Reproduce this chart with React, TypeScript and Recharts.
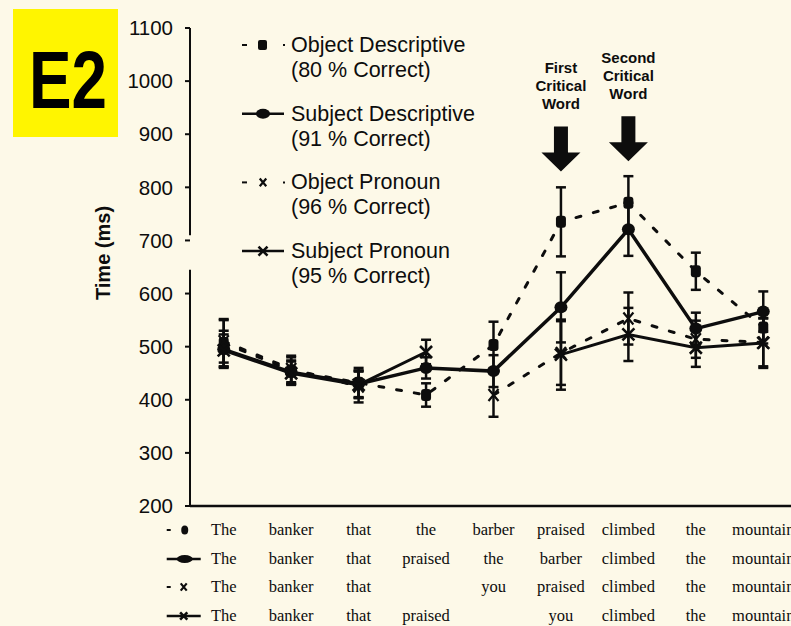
import React from 'react';
import { LineChart, Line, XAxis, YAxis, ErrorBar, ReferenceDot, ReferenceLine } from 'recharts';

// ---------- data ----------
const positions = [1, 2, 3, 4, 5, 6, 7, 8, 9];
const seriesNames = ['Object Descriptive', 'Subject Descriptive', 'Object Pronoun', 'Subject Pronoun'];
const seriesAccuracy = ['(80 % Correct)', '(91 % Correct)', '(96 % Correct)', '(95 % Correct)'];

const objDesc = [507, 455, 432, 409, 503, 735, 771, 642, 536];
const subjDesc = [495, 452, 430, 460, 454, 574, 721, 534, 566];
const objPron = [510, 458, 425, null, 409, 488, 553, 514, 508];
const subjPron = [493, 450, 428, 490, null, 485, 523, 498, 507];

const objDescErr = [45, 25, 28, 22, 44, 65, 50, 35, 30];
const subjDescErr = [35, 22, 25, 20, 30, 66, 50, 30, 38];
const objPronErr = [40, 25, 30, null, 41, 60, 49, 35, 45];
const subjPronErr = [30, 22, 25, 23, null, 66, 50, 36, 47];

const wordsObjDesc = ['The', 'banker', 'that', 'the', 'barber', 'praised', 'climbed', 'the', 'mountain'];
const wordsSubjDesc = ['The', 'banker', 'that', 'praised', 'the', 'barber', 'climbed', 'the', 'mountain'];
const wordsObjPron = ['The', 'banker', 'that', '', 'you', 'praised', 'climbed', 'the', 'mountain'];
const wordsSubjPron = ['The', 'banker', 'that', 'praised', '', 'you', 'climbed', 'the', 'mountain'];

const yTicks = [200, 300, 400, 500, 600, 700, 800, 900, 1000, 1100];

const criticalPositions = [6, 7];
const criticalTips = [830, 849];
const criticalLabels = [
  ['First', 'Critical', 'Word'],
  ['Second', 'Critical', 'Word'],
];

const panelLabel = 'E2';
const yAxisTitle = 'Time (ms)';

// ---------- derived table ----------
const data = positions.map((p, i) => ({
  pos: p,
  od: objDesc[i],
  sd: subjDesc[i],
  op: objPron[i],
  sp: subjPron[i],
  odErr: objDescErr[i],
  sdErr: subjDescErr[i],
  opErr: objPronErr[i],
  spErr: subjPronErr[i],
}));

const markerKinds = ['square', 'circle', 'xthin', 'xthick'];
const dashedSeries = [true, false, true, false];
const wordRows = [wordsObjDesc, wordsSubjDesc, wordsObjPron, wordsSubjPron];

const INK = '#0d0d0d';
const BG = '#fdf9e8';
const SANS = '"Liberation Sans", Arial, Helvetica, sans-serif';
const SERIF = '"Liberation Serif", "Times New Roman", serif';

function Marker({ kind, cx, cy, scale = 1 }: { kind: string; cx: number; cy: number; scale?: number }) {
  const s = scale;
  switch (kind) {
    case 'square':
      return <rect x={cx - 5 * s} y={cy - 6 * s} width={10 * s} height={12 * s} rx={3 * s} fill={INK} />;
    case 'circle':
      return <ellipse cx={cx} cy={cy} rx={6.5 * s} ry={6 * s} fill={INK} />;
    case 'xthin':
      return (
        <path
          d={`M${cx - 5 * s},${cy - 6 * s}L${cx + 5 * s},${cy + 6 * s}M${cx + 5 * s},${cy - 6 * s}L${cx - 5 * s},${cy + 6 * s}`}
          stroke={INK}
          strokeWidth={2.2}
          fill="none"
        />
      );
    default:
      return (
        <path
          d={`M${cx - 6 * s},${cy - 6 * s}L${cx + 6 * s},${cy + 6 * s}M${cx + 6 * s},${cy - 6 * s}L${cx - 6 * s},${cy + 6 * s}`}
          stroke={INK}
          strokeWidth={2.6}
          fill="none"
        />
      );
  }
}

const makeDot = (kind: string, prefix: string) => (p: any) => {
  if (p == null || p.cx == null || p.cy == null || p.value == null || Number.isNaN(p.cy)) {
    return <g key={`${prefix}-${p?.index}`} />;
  }
  return (
    <g key={`${prefix}-${p.index}`}>
      <Marker kind={kind} cx={p.cx} cy={p.cy} />
    </g>
  );
};

function WordTick(props: any) {
  const { x, y, payload, index } = props;
  const i = positions.indexOf(payload.value);
  const rowOffsets = [24, 53, 81, 110];
  return (
    <g>
      {wordRows.map((row, r) => (
        <text
          key={r}
          x={x}
          y={y + rowOffsets[r] + 5}
          textAnchor="middle"
          fontFamily={SERIF}
          fontSize={16.5}
          fill={INK}
        >
          {row[i]}
        </text>
      ))}
      {index === 0 &&
        markerKinds.map((k, r) => {
          const my = y + rowOffsets[r];
          const lx = x - 57;
          return (
            <g key={`m${r}`}>
              {dashedSeries[r] ? (
                <line x1={lx} y1={my} x2={lx + 4} y2={my} stroke={INK} strokeWidth={2} />
              ) : (
                <line x1={lx} y1={my} x2={lx + 34} y2={my} stroke={INK} strokeWidth={2.5} />
              )}
              {k === 'circle' ? (
                <ellipse cx={lx + 18} cy={my} rx={8} ry={4} fill={INK} />
              ) : k === 'square' ? (
                <ellipse cx={lx + 18} cy={my} rx={3.5} ry={4.5} fill={INK} />
              ) : (
                <Marker kind={k} cx={lx + 17} cy={my} scale={0.6} />
              )}
            </g>
          );
        })}
    </g>
  );
}

function CriticalArrow({ cx, cy, lines }: { cx: number; cy: number; lines: string[] }) {
  const textOffsets = [-98, -80, -62];
  return (
    <g>
      {lines.map((t, i) => (
        <text
          key={i}
          x={cx}
          y={cy + textOffsets[i]}
          textAnchor="middle"
          fontFamily={SANS}
          fontWeight="bold"
          fontSize={15}
          fill={INK}
        >
          {t}
        </text>
      ))}
      <path
        d={`M${cx - 7},${cy - 45}L${cx + 7},${cy - 45}L${cx + 7},${cy - 19}L${cx + 19.5},${cy - 19}L${cx},${cy}L${cx - 19.5},${cy - 19}L${cx - 7},${cy - 19}Z`}
        fill={INK}
      />
    </g>
  );
}

function YTitle() {
  return (
    <text
      x={103}
      y={253}
      transform="rotate(-90 103 253)"
      textAnchor="middle"
      dominantBaseline="central"
      fontFamily={SANS}
      fontWeight="bold"
      fontSize={20}
      fill={INK}
    >
      {yAxisTitle}
    </text>
  );
}

function Overlay() {
  return (
    <svg
      width={791}
      height={626}
      style={{ position: 'absolute', left: 0, top: 0, pointerEvents: 'none' }}
    >
      <rect x={13} y={9} width={105} height={128} fill="#fff500" />
      <text
        x={29}
        y={108}
        fontFamily={SANS}
        fontWeight="bold"
        fontSize={81}
        fill="#000"
        textLength={78}
        lengthAdjust="spacingAndGlyphs"
      >
        {panelLabel}
      </text>
      {seriesNames.map((name, i) => {
        const y = 45 + i * 68.7;
        const kind = markerKinds[i];
        return (
          <g key={name}>
            {dashedSeries[i] ? (
              <g>
                <line x1={242} y1={y} x2={247} y2={y} stroke={INK} strokeWidth={2} />
                <line x1={283} y1={y} x2={285} y2={y} stroke={INK} strokeWidth={2} />
              </g>
            ) : (
              <line x1={242} y1={y} x2={284} y2={y} stroke={INK} strokeWidth={2.5} />
            )}
            {kind === 'circle' ? (
              <ellipse cx={263} cy={y} rx={7} ry={5} fill={INK} />
            ) : kind === 'square' ? (
              <rect x={258} y={y - 5} width={9} height={10} rx={2} fill={INK} />
            ) : (
              <Marker kind={kind} cx={263} cy={y} scale={kind === 'xthin' ? 0.65 : 0.75} />
            )}
            <text x={291} y={y + 7} fontFamily={SANS} fontSize={21.5} fill={INK}>
              {name}
            </text>
            <text x={291} y={y + 32} fontFamily={SANS} fontSize={21.5} fill={INK}>
              {seriesAccuracy[i]}
            </text>
          </g>
        );
      })}
    </svg>
  );
}

export default function App() {
  return (
    <div
      style={{
        position: 'absolute',
        left: 0,
        top: 0,
        width: 791,
        height: 626,
        overflow: 'hidden',
        background: BG,
      }}
    >
      <LineChart
        width={800}
        height={626}
        data={data}
        margin={{ top: 28, right: 3, bottom: 0, left: 0 }}
        style={{ fontFamily: SANS }}
      >
        <XAxis
          dataKey="pos"
          type="number"
          domain={[0.5, 9.5]}
          ticks={positions}
          interval={0}
          height={120}
          tickSize={0}
          tickMargin={0}
          tickLine={false}
          axisLine={{ stroke: INK, strokeWidth: 2.5 }}
          tick={<WordTick />}
          allowDataOverflow
        />
        <YAxis
          type="number"
          domain={[200, 1100]}
          ticks={yTicks}
          interval={0}
          width={190}
          tickSize={5}
          tickMargin={12}
          axisLine={false}
          tickLine={{ stroke: INK, strokeWidth: 2 }}
          tick={{ fill: INK, fontSize: 20.5, fontFamily: SANS }}
          label={<YTitle />}
          allowDataOverflow
        />
        <ReferenceLine
          segment={[{ x: 0.5, y: 1100 }, { x: 0.5, y: 710 }]}
          stroke={INK}
          strokeWidth={2}
          ifOverflow="visible"
        />
        <ReferenceLine
          segment={[{ x: 0.5, y: 645 }, { x: 0.5, y: 200 }]}
          stroke={INK}
          strokeWidth={2}
          ifOverflow="visible"
        />
        <Line
          dataKey="od"
          stroke={INK}
          strokeWidth={3}
          strokeDasharray="5 13"
          strokeLinecap="round"
          dot={makeDot('square', 'od')}
          activeDot={false}
          connectNulls={false}
          isAnimationActive={false}
        >
          <ErrorBar dataKey="odErr" width={5} stroke={INK} strokeWidth={2.5} direction="y" isAnimationActive={false} />
        </Line>
        <Line
          dataKey="sd"
          stroke={INK}
          strokeWidth={3.5}
          dot={makeDot('circle', 'sd')}
          activeDot={false}
          connectNulls={false}
          isAnimationActive={false}
        >
          <ErrorBar dataKey="sdErr" width={5} stroke={INK} strokeWidth={2.5} direction="y" isAnimationActive={false} />
        </Line>
        <Line
          dataKey="op"
          stroke={INK}
          strokeWidth={3}
          strokeDasharray="5 13"
          strokeLinecap="round"
          dot={makeDot('xthin', 'op')}
          activeDot={false}
          connectNulls={false}
          isAnimationActive={false}
        >
          <ErrorBar dataKey="opErr" width={5} stroke={INK} strokeWidth={2.5} direction="y" isAnimationActive={false} />
        </Line>
        <Line
          dataKey="sp"
          stroke={INK}
          strokeWidth={3}
          dot={makeDot('xthick', 'sp')}
          activeDot={false}
          connectNulls={false}
          isAnimationActive={false}
        >
          <ErrorBar dataKey="spErr" width={5} stroke={INK} strokeWidth={2.5} direction="y" isAnimationActive={false} />
        </Line>
        {criticalPositions.map((p, i) => (
          <ReferenceDot
            key={`crit-${p}`}
            x={p}
            y={criticalTips[i]}
            r={0}
            ifOverflow="visible"
            shape={(sp: any) => <CriticalArrow cx={sp.cx} cy={sp.cy} lines={criticalLabels[i]} />}
          />
        ))}
      </LineChart>
      <Overlay />
    </div>
  );
}
